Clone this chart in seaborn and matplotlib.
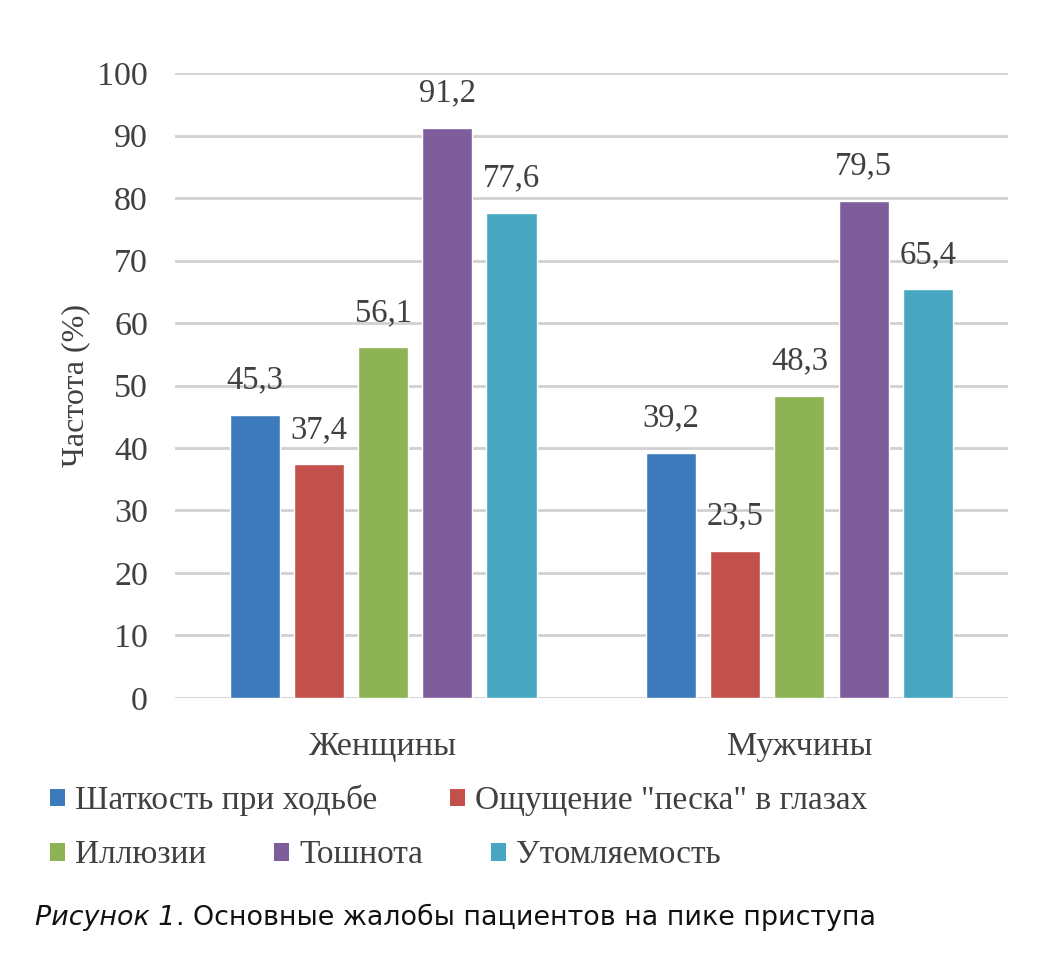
import pandas as pd
import seaborn as sns
import matplotlib.pyplot as plt
from matplotlib.patches import Patch

groups = ["Женщины", "Мужчины"]
symptoms = ["Шаткость при ходьбе", "Ощущение \"песка\" в глазах", "Иллюзии",
            "Тошнота", "Утомляемость"]
women = [45.3, 37.4, 56.1, 91.2, 77.6]
men = [39.2, 23.5, 48.3, 79.5, 65.4]
colors = ["#3d7abb", "#c4504b", "#8db354", "#7e5d9c", "#48a6c1"]

rows = []
for g, vals in zip(groups, [women, men]):
    for s, v in zip(symptoms, vals):
        rows.append({"group": g, "symptom": s, "value": v})
df = pd.DataFrame(rows)

sns.set_style("white")
plt.rcParams["font.family"] = ["Liberation Serif", "DejaVu Serif"]
txt = "#404040"

fig = plt.figure(figsize=(10.54, 9.74), dpi=100)
ax = fig.add_axes([0.166, 0.2834, 0.790, 0.6416])

sns.barplot(data=df, x="group", y="value", hue="symptom", hue_order=symptoms,
            order=groups, palette=colors, width=0.771, gap=0.22,
            saturation=1, legend=False, ax=ax)

for c in ax.containers:
    labels = [f"{v:.1f}".replace(".", ",") for v in c.datavalues]
    ax.bar_label(c, labels=labels, padding=14, fontsize=23.5, color=txt)

ax.set_ylim(0, 100)
ax.set_yticks(range(0, 101, 10))
ax.yaxis.grid(True, color="#d0d0d0", linewidth=2)
ax.set_axisbelow(True)
for sp in ax.spines.values():
    sp.set_visible(False)
ax.tick_params(axis="both", length=0, labelsize=24.5, colors=txt)
ax.tick_params(axis="x", pad=24)
ax.tick_params(axis="y", pad=19.5)
ax.set_xlabel("")
ax.set_ylabel("Частота (%)", fontsize=23, color=txt, labelpad=5)

handles = [Patch(facecolor=c, edgecolor="none") for c in colors]
leg_kw = dict(frameon=False, fontsize=24, handlelength=0.45, handleheight=0.45,
              handletextpad=0.3, labelcolor=txt, borderaxespad=0, borderpad=0)
leg1 = fig.legend(handles[:2], symptoms[:2], ncol=2, loc="center left",
                  bbox_to_anchor=(0.047, 0.178), columnspacing=2.2, **leg_kw)
leg2 = fig.legend(handles[2:], symptoms[2:], ncol=3, loc="center left",
                  bbox_to_anchor=(0.047, 0.122), columnspacing=2.05, **leg_kw)

# caption: italic figure number followed by regular text
cap_font = ["DejaVu Sans"]
cap_y = 0.058
t1 = fig.text(0.033, cap_y, "Рисунок 1", fontsize=19.4, style="italic",
              family=cap_font, va="center", color="#111111")
fig.canvas.draw()
x1 = t1.get_window_extent().x1
fig.text(x1 + 1, cap_y * fig.bbox.height, ". Основные жалобы пациентов на пике приступа",
         fontsize=19.4, family=cap_font, va="center", color="#111111",
         transform=None)

fig.savefig("out.png", dpi=100)
